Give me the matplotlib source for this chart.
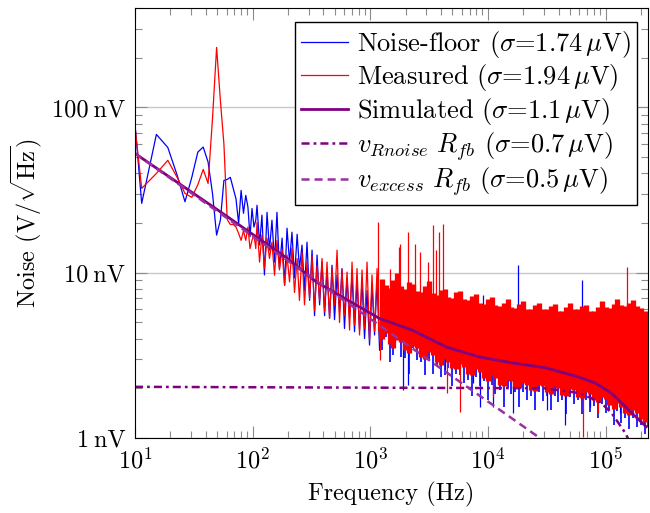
import matplotlib
matplotlib.use('Agg')
import matplotlib.pyplot as plt
from matplotlib.ticker import FixedLocator, FixedFormatter, LogLocator, NullFormatter

plt.rcParams['font.family'] = ['cmr10', 'DejaVu Serif']
plt.rcParams['mathtext.fontset'] = 'cm'
plt.rcParams['axes.formatter.use_mathtext'] = True
plt.rcParams['font.size'] = 17.5
plt.rcParams['lines.scale_dashes'] = False

# all noise values in nV/sqrt(Hz)
# low frequency bins (resolved points)
f_low = [7.6, 11.4, 15.2, 19.0, 22.8, 26.6, 30.4, 34.2, 38.0, 41.8, 45.6, 49.4, 53.2, 57.0,
         60.8, 64.6, 68.4, 72.2, 76.0, 79.8, 83.6, 87.4, 91.2, 95.0, 98.8, 102.6, 106.4]
blue_low = [800, 26.3, 68.7, 57.3, 39.0, 26.9, 37.8, 53.7, 57.6, 46.8, 30.1, 16.9, 20.8, 36.2,
            36.7, 37.8, 32.4, 28.0, 19.9, 31.5, 22.9, 29.4, 25.0, 16.5, 24.5, 18.9, 20.8]
red_low = [460, 32.4, 39.9, 47.9, 37.8, 30.2, 28.6, 34.1, 42.2, 34.7, 86, 231, 110, 60,
           21, 19.6, 19.6, 18.9, 17.3, 15.7, 18.0, 15.7, 18.9, 14.0, 15.7, 17, 14]

# mid band 100 Hz - 1.2 kHz
f_mid = [109, 114.5, 120, 126, 132.6, 139, 146, 153.5, 161, 169, 178, 187, 196, 206, 216, 227,
         239, 250, 263, 276, 290, 305, 320, 336, 353, 371, 389, 409, 429, 451, 473, 497, 522,
         548, 575, 604, 635, 667, 700, 735, 772, 811, 851, 894, 939, 986, 1035, 1088, 1143, 1200]
red_mid = [20.2, 11.6, 16.9, 10.6, 16.2, 12.2, 15.3, 9.66, 15.7, 10.4, 13.7, 8.4, 12.8, 8.8,
           14.1, 7.6, 12.2, 6.8, 13.3, 6.4, 11.6, 7.0, 12.6, 5.9, 11.1, 6.8, 12.2, 5.8, 11.6,
           5.3, 10.6, 6.4, 13.7, 5.0, 10.4, 5.5, 10.1, 4.5, 11.6, 4.8, 10.6, 4.2, 10.4, 4.6,
           11.6, 3.9, 9.7, 4.4, 10.6, 4.0]
blue_mid = [25.6, 14.7, 22.3, 9.7, 23.2, 13.7, 20.8, 11.6, 23.2, 10.6, 16.2, 8.4, 18.6, 11.6,
            17.6, 9.3, 17.1, 10.6, 14.7, 7.8, 15.3, 6.8, 13.7, 5.5, 12.8, 6.4, 11.6, 5.5, 10.4,
            5.3, 11.1, 5.2, 9.7, 5.8, 10.6, 4.6, 9.3, 5.3, 9.7, 4.4, 8.8, 4.5, 9.0, 4.0, 7.8,
            3.65, 8.4, 4.2, 9.0, 3.4]

# dense band 1.2 kHz - 230 kHz: per-bin max / min of the noise
f_dense = [1250, 1350, 1460, 1570, 1700, 1840, 1980, 2140, 2310, 2500, 2700, 2910, 3150, 3400,
           3670, 3960, 4280, 4620, 4990, 5390, 5820, 6290, 6790, 7330, 7920, 8550, 9240, 9970,
           10800, 11600, 12600, 13600, 14700, 15800, 17100, 18500, 19900, 21500, 23300, 25100,
           27100, 29300, 31600, 34200, 36900, 39800, 43000, 46500, 50200, 54200, 58500, 63200,
           68300, 73700, 79600, 86000, 92900, 100000, 108000, 117000, 126000, 136000, 147000,
           159000, 172000, 185000, 200000, 216000, 230000]
red_top = [9.2, 8.4, 8.1, 9.0, 9.9, 8.3, 8.0, 8.8, 8.6, 7.8, 7.6, 8.3, 8.9, 7.5, 7.3, 7.9,
           8.0, 7.1, 7.0, 7.6, 7.8, 6.9, 6.8, 7.2, 7.4, 6.6, 6.5, 6.9, 7.1, 6.4, 6.3, 6.6,
           6.9, 6.2, 6.1, 6.5, 6.7, 6.0, 6.0, 6.4, 6.6, 6.0, 6.0, 6.3, 6.5, 5.9, 5.9, 6.2,
           6.6, 6.0, 6.0, 6.3, 6.4, 5.9, 5.9, 6.2, 6.7, 6.2, 6.1, 6.5, 6.9, 6.4, 6.3, 6.6,
           6.8, 6.3, 6.1, 5.9, 5.5]
red_bot = [4.0, 4.3, 3.7, 3.5, 3.9, 3.8, 3.4, 3.25, 3.6, 3.5, 3.1, 3.0, 3.3, 3.2, 2.9, 2.75,
           3.0, 2.9, 2.65, 2.6, 2.8, 2.7, 2.45, 2.4, 2.6, 2.5, 2.3, 2.2, 2.4, 2.3, 2.1, 2.05,
           2.25, 2.2, 2.0, 2.0, 2.15, 2.1, 1.95, 1.92, 2.1, 2.05, 1.9, 1.85, 2.05, 2.0, 1.82, 1.8,
           1.98, 1.95, 1.78, 1.75, 1.9, 1.85, 1.7, 1.65, 1.78, 1.72, 1.58, 1.5, 1.62, 1.55, 1.42,
           1.38, 1.48, 1.42, 1.3, 1.25, 1.3]
blue_bot = [3.4, 4.1, 2.9, 3.2, 3.9, 3.1, 3.05, 2.45, 3.5, 2.95, 2.9, 2.4, 2.95, 2.45, 2.75, 2.35,
            2.4, 2.65, 2.05, 2.45, 2.4, 2.15, 2.25, 1.8, 2.35, 2.05, 2.2, 1.7, 2.1, 1.85, 1.95, 1.55,
            2.0, 1.85, 1.9, 1.55, 1.9, 1.7, 1.8, 1.48, 1.9, 1.68, 1.8, 1.48, 1.8, 1.66, 1.7, 1.4,
            1.78, 1.6, 1.7, 1.4, 1.7, 1.44, 1.56, 1.32, 1.6, 1.41, 1.47, 1.2, 1.46, 1.24, 1.32,
            1.13, 1.33, 1.16, 1.2, 1.06, 1.17]

# isolated spikes
red_spike_f = [1172, 1472, 1766, 1793, 2109, 2404, 2650, 3097, 3443, 3640, 3872, 4188, 151700,
               1211, 4470, 5810, 11000, 64900, 87000]
red_spike_v = [20.3, 10.6, 14.3, 15.0, 17.6, 15.0, 13.4, 11.6, 19.4, 13.7, 17.6, 19.6, 10.8,
               2.96, 1.87, 1.44, 1.78, 1.02, 1.41]
blue_spike_f = [9160, 18160, 62800, 1913, 2080, 4325, 7530, 8590, 11140, 16300, 31700, 45400,
                74000, 133000]
blue_spike_v = [7.3, 11.1, 9.1, 1.95, 2.09, 2.58, 2.14, 1.55, 1.55, 1.41, 1.48, 1.2, 1.55, 1.41]

# model curves
f_sim = [10, 50, 194, 348, 1190, 2270, 4400, 8400, 16000, 31000, 59000, 82000, 112000, 157000, 222000]
v_sim = [52.7, 24.1, 12.3, 8.8, 5.3, 4.5, 3.56, 3.1, 2.85, 2.66, 2.34, 2.15, 1.87, 1.48, 1.17]
f_rnoise = [10, 30000, 60000, 90000, 112500, 147600, 180000]
v_rnoise = [2.04, 2.0, 1.87, 1.65, 1.42, 1.07, 0.8]
f_excess = [10, 30000]
v_excess = [52.7, 0.96]

labels = ['Noise-floor ($\\sigma$=1.74$\\,\\mu$V)',
          'Measured ($\\sigma$=1.94$\\,\\mu$V)',
          'Simulated ($\\sigma$=1.1$\\,\\mu$V)',
          '$v_{Rnoise}\\ R_{fb}$ ($\\sigma$=0.7$\\,\\mu$V)',
          '$v_{excess}\\ R_{fb}$ ($\\sigma$=0.5$\\,\\mu$V)']

fig = plt.figure(figsize=(6.5, 5.13), dpi=100)
ax = fig.add_axes([0.2077, 0.1462, 0.7893, 0.8382])

ax.plot(f_low + f_mid, blue_low + blue_mid, color='blue', lw=0.9, label=labels[0])
ax.vlines(f_dense, blue_bot, red_bot, color='blue', lw=1.2)
ax.vlines(blue_spike_f, 4.5, blue_spike_v, color='blue', lw=0.9)

ax.plot(f_low + f_mid, red_low + red_mid, color='red', lw=0.9, label=labels[1])
ax.vlines(f_dense, red_bot, red_top, color='red', lw=3.8)
ax.vlines(red_spike_f, 4.5, red_spike_v, color='red', lw=0.9)

ax.plot(f_sim, v_sim, color='#800080', lw=2.0, label=labels[2])
ax.plot(f_rnoise, v_rnoise, color='#800080', lw=1.8, dashes=(5.8, 2.9, 2.0, 2.9), label=labels[3])
ax.plot(f_excess, v_excess, color='#9b30a0', lw=1.8, dashes=(5.8, 3.6), label=labels[4])

ax.set_xscale('log')
ax.set_yscale('log')
ax.set_xlim(10, 2.3e5)
ax.set_ylim(1, 400)

ax.yaxis.set_major_locator(FixedLocator([1, 10, 100]))
ax.yaxis.set_major_formatter(FixedFormatter(['1\u2009nV', '10\u2009nV', '100\u2009nV']))
ax.yaxis.set_minor_locator(LogLocator(base=10, subs=range(2, 10), numticks=20))
ax.yaxis.set_minor_formatter(NullFormatter())
ax.xaxis.set_minor_locator(LogLocator(base=10, subs=range(2, 10), numticks=20))
ax.xaxis.set_minor_formatter(NullFormatter())

ax.tick_params(which='both', direction='in', top=True, right=True, color='0.55', width=0.8)
ax.tick_params(which='major', length=8.5, pad=7)
ax.tick_params(which='minor', length=5)
ax.yaxis.grid(True, which='major', color='0.78', lw=1.0)
ax.set_axisbelow(True)

ax.set_xlabel('Frequency (Hz)', labelpad=6)
ax.set_ylabel('Noise (V/$\\sqrt{\\mathrm{Hz}}$)', labelpad=6)

leg = ax.legend(loc='upper right', bbox_to_anchor=(0.979, 0.967), borderaxespad=0,
                fancybox=False, framealpha=1, edgecolor='black', handlelength=1.75,
                handletextpad=0.35, labelspacing=0.1, borderpad=0.25, prop={'size': 19})
leg.get_frame().set_linewidth(1.0)

fig.savefig('out.png', dpi=100)
